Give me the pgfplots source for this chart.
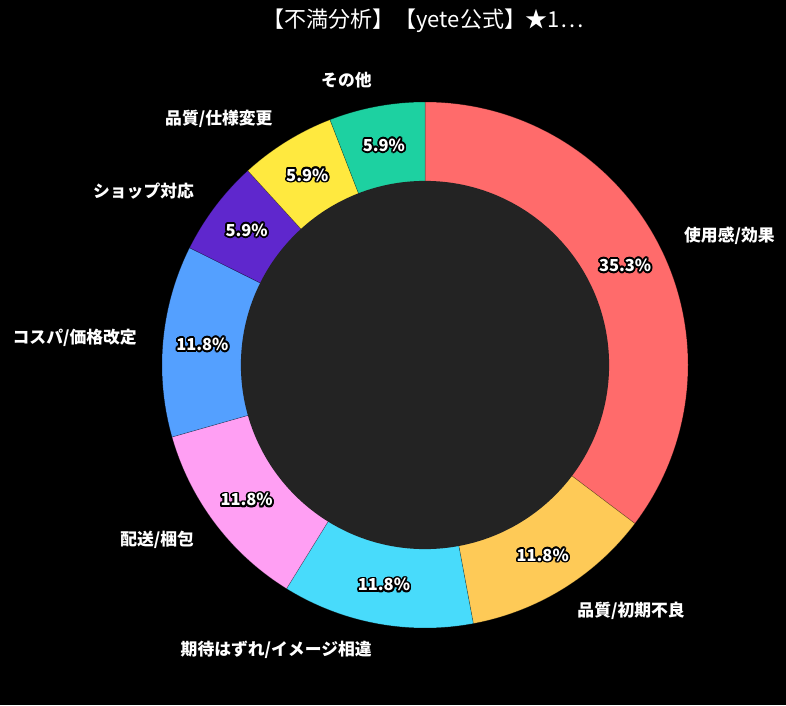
\documentclass[border=0pt]{standalone}
\usepackage{pgfplots}
\pgfplotsset{compat=1.18}
\usepackage{pgfplotstable}
\usepackage{fontspec}
\setmainfont{Noto Sans CJK JP}
\definecolor{innergray}{HTML}{232323}
\pgfplotstableread[col sep=comma]{
label,count,color
使用感/効果,6,FF6B6B
品質/初期不良,2,FECA57
期待はずれ/イメージ相違,2,48DBFB
配送/梱包,2,FF9FF3
コスパ/価格改定,2,54A0FF
ショップ対応,1,5F27CD
品質/仕様変更,1,FFE93F
その他,1,1DD1A1
}\piedata
\newcommand\lblfont{\fontsize{16.8pt}{19pt}\selectfont\bfseries}
\newcommand\pctfont{\fontsize{16.5pt}{19pt}\selectfont\bfseries}
\begin{document}
\begin{tikzpicture}
\fill[black] (0,0) rectangle (786pt,705pt);
\node[text=white, font=\fontsize{22pt}{25pt}\selectfont] at (423pt,684pt) {【不満分析】【yete公式】★1…};
\begin{axis}[at={(425pt,340pt)}, anchor=center, x=263pt, y=263pt,
  xmin=-1, xmax=1, ymin=-1, ymax=1, hide axis, clip=false, disabledatascaling]
\pgfplotsextra{
  \pgfplotstablegetrowsof{\piedata}\pgfmathtruncatemacro\lastrow{\pgfplotsretval-1}
  \def\total{0}
  \pgfplotsforeachungrouped \i in {0,...,\lastrow}{%
    \pgfplotstablegetelem{\i}{count}\of\piedata
    \pgfmathsetmacro\total{\total+\pgfplotsretval}%
  }
  % slices
  \def\startang{90}
  \pgfplotsforeachungrouped \i in {0,...,\lastrow}{%
    \pgfplotstablegetelem{\i}{count}\of\piedata
    \pgfmathsetmacro\endang{\startang-360*\pgfplotsretval/\total}%
    \pgfplotstablegetelem{\i}{color}\of\piedata
    \definecolor{slicecol}{HTML}{\pgfplotsretval}%
    \fill[slicecol, draw=black, draw opacity=0.35, line width=0.5pt]
      (axis cs:0,0) -- (axis cs:{cos(\startang)},{sin(\startang)})
      arc[start angle=\startang, end angle=\endang, radius=263pt] -- cycle;
    \global\let\startang\endang
  }
  \fill[innergray] (axis cs:0,0) circle[radius=184.1pt];
  % labels
  \def\startang{90}
  \pgfplotsforeachungrouped \i in {0,...,\lastrow}{%
    \pgfplotstablegetelem{\i}{count}\of\piedata
    \let\cnt\pgfplotsretval
    \pgfmathsetmacro\endang{\startang-360*\cnt/\total}%
    \pgfmathsetmacro\midang{(\startang+\endang)/2}%
    \pgfmathsetmacro\pct{100*\cnt/\total}%
    \pgfmathsetmacro\cx{cos(\midang)}%
    \pgfmathsetmacro\sy{sin(\midang)}%
    \pgfplotstablegetelem{\i}{label}\of\piedata
    \let\lbl\pgfplotsretval
    \pgfmathparse{\cx>0 ? 1 : 0}%
    \ifnum\pgfmathresult=1 \def\anc{west}\else\def\anc{east}\fi
    \node[anchor=\anc, text=white, font=\lblfont, inner sep=0pt]
      at (axis cs:{1.1*\cx},{1.1*\sy}) {\lbl};
    \foreach \a in {0,22.5,...,337.5}{%
      \node[text=black, font=\pctfont, inner sep=0pt, xshift={1.7*cos(\a)*1pt}, yshift={1.7*sin(\a)*1pt}]
        at (axis cs:{0.85*\cx},{0.85*\sy}) {\pgfmathprintnumber[fixed,fixed zerofill,precision=1,assume math mode=true]{\pct}\%};
    }
    \node[text=white, font=\pctfont, inner sep=0pt]
      at (axis cs:{0.85*\cx},{0.85*\sy}) {\pgfmathprintnumber[fixed,fixed zerofill,precision=1,assume math mode=true]{\pct}\%};
    \global\let\startang\endang
  }
}
\end{axis}
\end{tikzpicture}
\end{document}
